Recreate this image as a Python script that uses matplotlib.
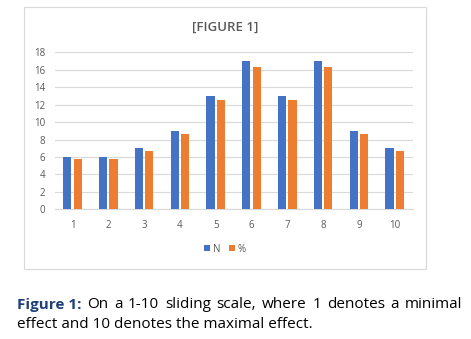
import matplotlib.pyplot as plt
import numpy as np
from matplotlib.patches import Rectangle

# chart data
scale = [1, 2, 3, 4, 5, 6, 7, 8, 9, 10]
n_vals = [6, 6, 7, 9, 13, 17, 13, 17, 9, 7]
pct_vals = [5.77, 5.77, 6.73, 8.65, 12.5, 16.35, 12.5, 16.35, 8.65, 6.73]
yticks = [0, 2, 4, 6, 8, 10, 12, 14, 16, 18]

blue = '#4472C4'
orange = '#ED7D31'
grey = '#595959'

plt.rcParams['font.family'] = ['Open Sans', 'DejaVu Sans']

fig = plt.figure(figsize=(4.71, 3.39), dpi=100)

# outer chart frame
fig.patches.append(Rectangle((24.3 / 471, 1 - 269 / 339), (426.3 - 24.3) / 471, (269 - 7) / 339,
                             transform=fig.transFigure, fill=False, edgecolor='#d9d9d9', lw=0.8))

ax = fig.add_axes([0.116, 0.3826, 0.760, 0.463])
x = np.array(scale)
ax.bar(x - 0.145, n_vals, width=0.23, color=blue, label='N', zorder=3)
ax.bar(x + 0.145, pct_vals, width=0.23, color=orange, label='%', zorder=3)

ax.set_xlim(0.5, 10.5)
ax.set_ylim(0, 18)
ax.set_yticks(yticks)
ax.set_xticks(scale)
ax.grid(axis='y', color='#d9d9d9', lw=0.8, zorder=0)
for s in ['top', 'right', 'left']:
    ax.spines[s].set_visible(False)
ax.spines['bottom'].set_color('#d9d9d9')
ax.tick_params(axis='both', length=0, labelsize=7, colors=grey)
ax.tick_params(axis='y', pad=7)
ax.tick_params(axis='x', pad=8)

fig.text(0.478, 1 - 27 / 339, '[FIGURE 1]', ha='center', va='center', fontsize=9.5,
         color=grey, fontweight='semibold')

fig.legend(loc='center', bbox_to_anchor=(0.478, 1 - 249 / 339), ncol=2, frameon=False,
           fontsize=7, handlelength=0.6, handleheight=0.6, handletextpad=0.3,
           columnspacing=0.9, labelcolor=grey)

# caption below the chart; first line justified to the right edge
cap_size = 11
y1 = 1 - 305 / 339
y2 = 1 - 324 / 339
left, right = 17, 462
fig.text(left / 471, y1, 'Figure 1:', ha='left', va='center', fontsize=cap_size,
         color='#1F3F7A', fontweight='bold')
words = 'On a 1-10 sliding scale, where 1 denotes a minimal'.split()
renderer = fig.canvas.get_renderer()
items = [fig.text(0, y1, w, ha='left', va='center', fontsize=cap_size, color='black') for w in words]
widths = [t.get_window_extent(renderer).width for t in items]
start = 87
gap = (right - start - sum(widths)) / (len(words) - 1)
pos = start
for t, w in zip(items, widths):
    t.set_x(pos / 471)
    pos += w + gap
fig.text(left / 471, y2, 'effect and 10 denotes the maximal effect.',
         ha='left', va='center', fontsize=cap_size, color='black')

fig.savefig('out.png', dpi=100)
